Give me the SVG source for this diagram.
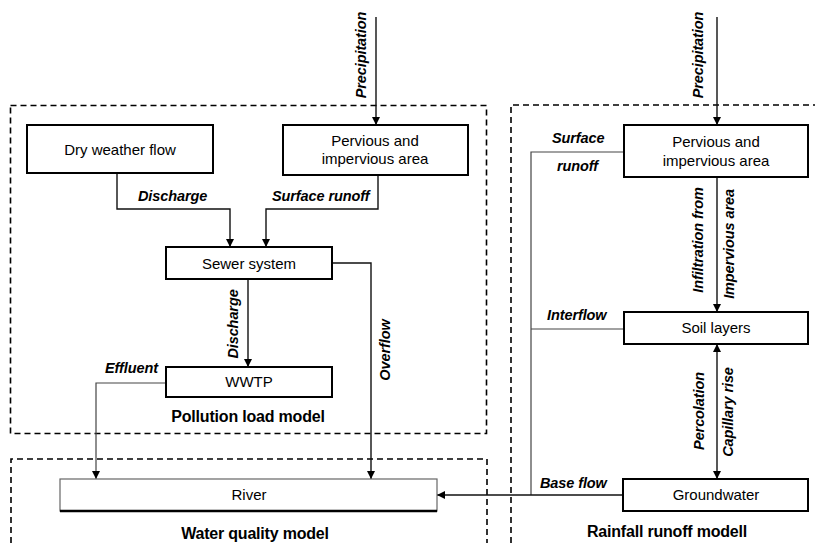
<svg xmlns="http://www.w3.org/2000/svg" width="815" height="543" viewBox="0 0 815 543">
<style>
.box{fill:#fff;stroke:#000;stroke-width:2}
.dash{fill:none;stroke:#000;stroke-width:1.6;stroke-dasharray:6 4}
.ln{fill:none;stroke:#111;stroke-width:1.4}
.lg{fill:none;stroke:#444;stroke-width:1.2}
.t{font-family:"Liberation Sans",Arial,sans-serif;font-size:15px;fill:#000;text-anchor:middle}
.lab{font-family:"Liberation Sans",Arial,sans-serif;font-size:14.5px;font-style:italic;font-weight:bold;fill:#000;letter-spacing:-0.1px}
.ttl{font-family:"Liberation Sans",Arial,sans-serif;font-size:16px;font-weight:bold;fill:#000;text-anchor:middle;letter-spacing:-0.2px}
</style>
<defs>
<marker id="ah" markerUnits="userSpaceOnUse" markerWidth="9" markerHeight="9" refX="8" refY="4" orient="auto-start-reverse">
<path d="M0,0 L8,4 L0,8 z" fill="#000"/>
</marker>
</defs>
<rect width="815" height="543" fill="#fff"/>
<g id="frames">
<rect class="dash" x="10.5" y="105.5" width="476" height="328"/>
<path class="dash" d="M11,543 V459 H487 V543"/>
<path class="dash" d="M511,543 V105 H815"/>
</g>
<g id="connectors">
<path class="ln" d="M376,17 V125" marker-end="url(#ah)"/>
<path class="ln" d="M717,17 V125" marker-end="url(#ah)"/>
<path class="ln" d="M117,173 V209 H230 V247" marker-end="url(#ah)"/>
<path class="ln" d="M378,175 V209 H266 V247" marker-end="url(#ah)"/>
<path class="ln" d="M248,279 V367" marker-end="url(#ah)"/>
<path class="ln" d="M332,263 H371 V479" marker-end="url(#ah)"/>
<path class="lg" d="M166,383 H96 V479" marker-end="url(#ah)"/>
<path class="lg" d="M624,152 H531 V495"/>
<path class="ln" d="M717,177 V312" marker-end="url(#ah)"/>
<path class="lg" d="M624,329 H531"/>
<path class="ln" d="M717,344 V479" marker-start="url(#ah)" marker-end="url(#ah)"/>
<path class="ln" d="M623,495 H437" marker-end="url(#ah)"/>
</g>
<g id="labels">
<text class="lab" transform="translate(366,55) rotate(-90)" text-anchor="middle">Precipitation</text>
<text class="lab" transform="translate(703,55) rotate(-90)" text-anchor="middle">Precipitation</text>
<text class="lab" x="138" y="201">Discharge</text>
<text class="lab" x="272" y="201">Surface runoff</text>
<text class="lab" transform="translate(238,324) rotate(-90)" text-anchor="middle">Discharge</text>
<text class="lab" transform="translate(390,350) rotate(-90)" text-anchor="middle">Overflow</text>
<text class="lab" x="105" y="373">Effluent</text>
<text class="lab" x="552" y="143">Surface</text>
<text class="lab" x="557" y="171">runoff</text>
<text class="lab" transform="translate(703,240) rotate(-90)" text-anchor="middle">Infiltration from</text>
<text class="lab" transform="translate(734,244) rotate(-90)" text-anchor="middle">Impervious area</text>
<text class="lab" x="547" y="320">Interflow</text>
<text class="lab" transform="translate(704,411) rotate(-90)" text-anchor="middle">Percolation</text>
<text class="lab" transform="translate(733,412) rotate(-90)" text-anchor="middle">Capillary rise</text>
<text class="lab" x="540" y="488">Base flow</text>
<text class="ttl" x="248" y="422">Pollution load model</text>
<text class="ttl" x="255" y="539">Water quality model</text>
<text class="ttl" x="667" y="537">Rainfall runoff modell</text>
</g>
<g id="dry-weather-flow">
<rect class="box" x="27" y="125" width="186" height="48"/>
<text class="t" x="120" y="155">Dry weather flow</text>
</g>
<g id="pervious-left">
<rect class="box" x="283" y="125" width="185" height="50"/>
<text class="t" x="375" y="146">Pervious and</text>
<text class="t" x="375" y="164">impervious area</text>
</g>
<g id="sewer-system">
<rect class="box" x="166" y="247" width="166" height="32"/>
<text class="t" x="249" y="269">Sewer system</text>
</g>
<g id="wwtp">
<rect class="box" x="166" y="367" width="166" height="30"/>
<text class="t" x="249" y="387">WWTP</text>
</g>
<g id="river">
<rect x="60" y="479" width="377" height="32" fill="#fff" stroke="#666" stroke-width="1.2"/>
<path d="M60,511 H437" stroke="#000" stroke-width="2.4"/>
<text class="t" x="249" y="500" fill="#333">River</text>
</g>
<g id="pervious-right">
<rect class="box" x="624" y="125" width="184" height="52"/>
<text class="t" x="716" y="147">Pervious and</text>
<text class="t" x="716" y="166">impervious area</text>
</g>
<g id="soil-layers">
<rect class="box" x="624" y="312" width="184" height="32"/>
<text class="t" x="716" y="333">Soil layers</text>
</g>
<g id="groundwater">
<rect class="box" x="623" y="479" width="185" height="32"/>
<text class="t" x="716" y="500">Groundwater</text>
</g>
</svg>
